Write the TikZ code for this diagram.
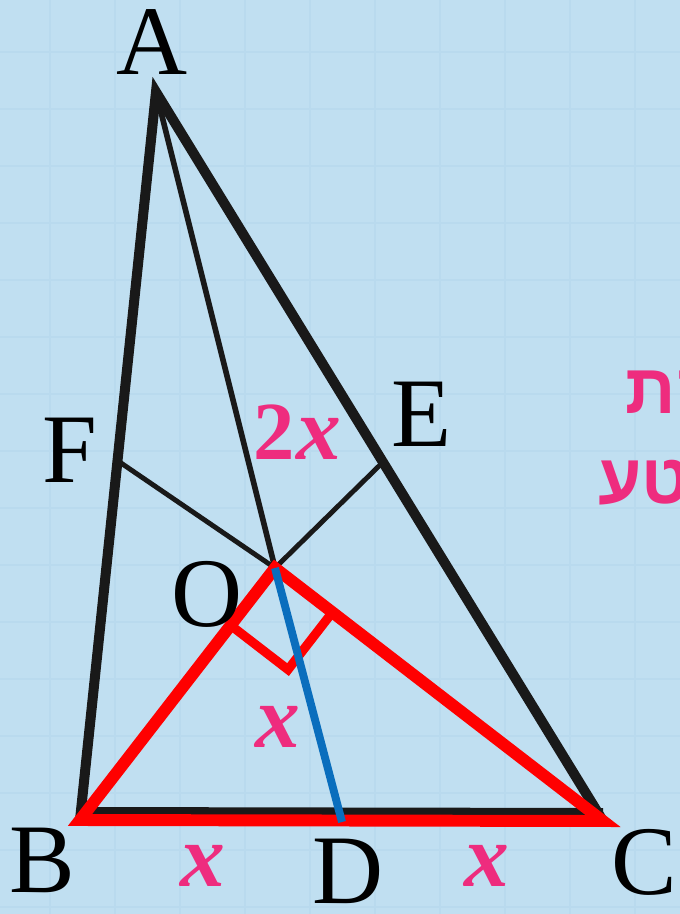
\documentclass[tikz,border=0pt]{standalone}
\usepackage{fontspec}
\setmainfont{Liberation Serif}
\newfontfamily\hebfont[Script=Hebrew]{Liberation Sans}
\TeXXeTstate=1
\usetikzlibrary{calc}
\definecolor{bgblue}{HTML}{C0DFF1}
\definecolor{gridblue}{HTML}{B9DAEE}
\definecolor{pinklbl}{HTML}{EE2C7E}
\definecolor{segblue}{HTML}{0A6EBD}
\newcommand{\vx}{\textbf{\textit{x}}}

\begin{document}
\begin{tikzpicture}[x=0.02cm,y=-0.02cm,
  pt/.style={font=\fontsize{56}{60}\selectfont,inner sep=0pt},
  val/.style={text=pinklbl,inner sep=0pt,font=\fontsize{51}{56}\selectfont},
  heb/.style={text=pinklbl,inner sep=0pt,font=\fontsize{40}{44}\selectfont\hebfont\bfseries},
  side/.style={draw=black!90,line width=5.7pt,line join=miter},
  cev/.style={draw=black!90,line width=3.2pt},
  tri/.style={draw=red,line width=6.8pt,line join=miter},
  rmark/.style={draw=red,line width=5.2pt,line join=miter}]
\useasboundingbox (0,0) rectangle (680,914);
\fill[bgblue] (0,0) rectangle (680,914);
% faint squared paper
\foreach \gx in {50,115,...,680}{\draw[gridblue,line width=1.6pt] (\gx,0)--(\gx,914);}
\foreach \gy in {52,109,...,914}{\draw[gridblue,line width=1.6pt] (0,\gy)--(680,\gy);}

\coordinate (A) at (156,92);
\coordinate (B) at (80,820);
\coordinate (C) at (603,821);
\coordinate (D) at (342,822);
\coordinate (O) at (275,568);
\coordinate (F) at (121,463);
\coordinate (E) at (380,465);

% triangle ABC with cevians
\draw[cev] (A)--(O);
\draw[cev,line width=2.8pt] (F)--(O)--(E);
\draw[side] (B)--(A)--(C);
\draw[side] ($(B)+(0,-8)$)--($(C)+(0,-8)$);

% triangle BOC, right angle at O
\draw[tri] (B)--(O)--(C)--cycle;
\coordinate (P) at ($(O)!1.45cm!(B)$);
\coordinate (Q) at ($(O)!1.45cm!(C)$);
\draw[rmark] (P)--($(P)+(Q)-(O)$)--(Q);
\draw[segblue,line width=4.5pt] (O)--(D);

% letters
\node[pt] (lA) at (152,42) {A};
\node[pt] (lF) at (70,450) {F};
\node[pt] (lE) at (422,414) {E};
\node[pt] (lO) at (207,594) {O};
\node[pt] (lB) at (42,860) {B};
\node[pt] (lD) at (348,871) {D};
\node[pt] (lC) at (644,862) {C};

% lengths
\node[val] (v2x) at (297,432) {{\fontsize{47}{50}\selectfont\bfseries 2}\kern1pt\vx};
\node[val] (vOD) at (278,727) {\vx};
\node[val] (vBD) at (203,866) {\vx};
\node[val] (vDC) at (487,866) {\vx};

% cut-off note
\node[heb,anchor=base west] (h1) at (625,413) {\beginR קת\endR};
\node[heb,anchor=base west] (h2) at (598,503) {\beginR טע\endR};
\end{tikzpicture}
\end{document}
